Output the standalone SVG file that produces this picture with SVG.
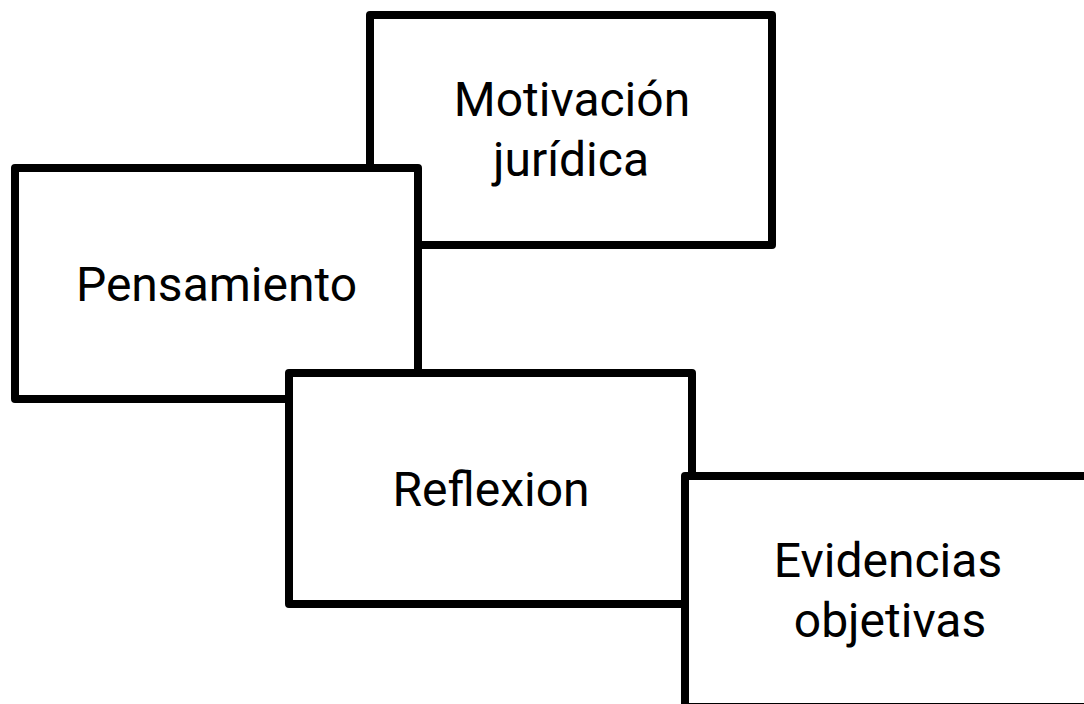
<svg xmlns="http://www.w3.org/2000/svg" width="1084" height="704" viewBox="0 0 1084 704">
<style>
.box{fill:#fff;stroke:#000;stroke-width:8;stroke-linejoin:round}
.lbl{font-family:Roboto,"Liberation Sans",sans-serif;font-size:48px;fill:#000;text-anchor:middle}
</style>
<rect width="1084" height="704" fill="#fff"/>
<g id="connectors"/>
<g id="motivacion">
<rect class="box" x="370" y="15" width="402" height="230"/>
<text class="lbl" x="572" y="116">Motivación</text>
<text class="lbl" x="571" y="176">jurídica</text>
</g>
<g id="pensamiento">
<rect class="box" x="15" y="168" width="403" height="231"/>
<text class="lbl" x="216.5" y="301">Pensamiento</text>
</g>
<g id="reflexion">
<rect class="box" x="289" y="373" width="403" height="231"/>
<text class="lbl" x="491" y="506">Reflexion</text>
</g>
<g id="evidencias">
<rect class="box" x="685" y="476" width="403" height="231"/>
<text class="lbl" x="888" y="577">Evidencias</text>
<text class="lbl" x="890" y="637">objetivas</text>
</g>
</svg>
